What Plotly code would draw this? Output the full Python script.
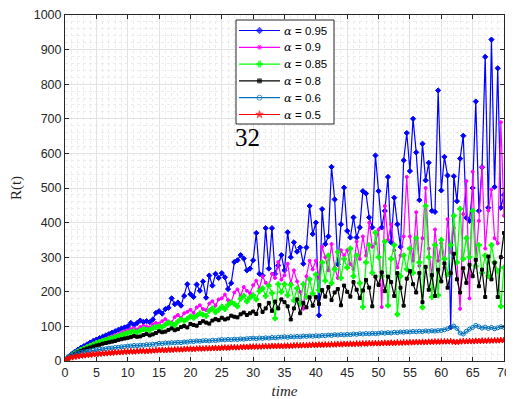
import plotly.graph_objects as go

time = [i * 0.5 for i in range(141)]

r_095 = [
    0, 11, 19, 26, 32, 38, 43, 48, 53, 58,
    62, 66, 70, 74, 78, 82, 86, 90, 94, 97,
    100, 110, 104, 110, 117, 113, 115, 112, 120, 139,
    144, 137, 150, 154, 181, 164, 169, 160, 188, 222,
    193, 185, 221, 203, 230, 183, 247, 218, 252, 240,
    254, 242, 208, 225, 286, 291, 306, 296, 262, 267,
    291, 370, 252, 247, 384, 267, 384, 252, 276, 306,
    262, 372, 300, 343, 316, 328, 281, 328, 448, 367,
    400, 132, 439, 338, 360, 561, 467, 280, 395, 501,
    376, 357, 415, 357, 386, 491, 484, 415, 386, 594,
    491, 386, 434, 532, 343, 472, 395, 330, 580, 659,
    549, 700, 603, 465, 628, 522, 573, 434, 431, 782,
    493, 590, 536, 98, 534, 462, 585, 651, 414, 405,
    500, 750, 434, 560, 879, 443, 929, 503, 846, 443,
    480,
]
r_09 = [
    0, 9, 17, 23, 29, 34, 38, 42, 46, 50,
    54, 57, 61, 64, 68, 71, 75, 78, 82, 85,
    88, 92, 95, 91, 98, 102, 100, 97, 106, 110,
    108, 115, 121, 114, 112, 127, 133, 125, 138, 142,
    148, 139, 155, 161, 150, 147, 166, 173, 160, 178,
    181, 192, 176, 170, 198, 207, 188, 214, 203, 196,
    219, 232, 210, 245, 226, 218, 252, 240, 286, 235,
    248, 281, 225, 262, 230, 200, 151, 245, 290, 265,
    290, 240, 330, 300, 262, 338, 270, 240, 320, 305,
    320, 280, 265, 345, 295, 360, 305, 400, 330, 340,
    380, 156, 448, 350, 395, 320, 270, 305, 360, 532,
    360, 290, 430, 275, 355, 500, 325, 245, 380, 290,
    340, 270, 410, 315, 385, 285, 151, 425, 520, 181,
    547, 295, 405, 560, 325, 435, 496, 355, 340, 690,
    420,
]
r_085 = [
    0, 9, 16, 22, 27, 32, 36, 40, 44, 48,
    52, 55, 58, 61, 64, 66, 69, 72, 75, 78,
    81, 84, 86, 83, 88, 92, 90, 89, 95, 98,
    100, 98, 105, 111, 107, 104, 114, 120, 116, 122,
    129, 125, 131, 138, 134, 130, 145, 152, 141, 148,
    157, 150, 162, 170, 165, 158, 180, 188, 172, 183,
    190, 178, 202, 210, 188, 218, 196, 123, 222, 200,
    222, 190, 220, 175, 210, 165, 222, 185, 236, 195,
    250, 205, 285, 232, 305, 225, 265, 315, 240, 295,
    270, 325, 245, 305, 225, 156, 285, 335, 255, 371,
    300, 245, 345, 160, 295, 335, 135, 245, 305, 265,
    325, 255, 355, 285, 155, 448, 300, 185, 335, 190,
    350, 295, 250, 335, 420, 285, 440, 295, 355, 300,
    434, 275, 335, 255, 305, 245, 335, 285, 260, 158,
    270,
]
r_08 = [
    0, 8, 15, 20, 25, 29, 33, 36, 39, 42,
    45, 47, 50, 52, 54, 56, 58, 61, 63, 65,
    67, 69, 72, 70, 71, 75, 78, 74, 77, 81,
    86, 83, 85, 90, 94, 89, 92, 98, 101, 97,
    107, 104, 102, 110, 115, 111, 108, 117, 121, 118,
    125, 120, 123, 131, 128, 126, 135, 140, 133, 138,
    143, 136, 162, 142, 152, 168, 145, 172, 152, 178,
    170, 158, 120, 152, 178, 138, 168, 155, 184, 160,
    185, 165, 205, 186, 214, 176, 198, 208, 161, 218,
    200, 186, 228, 206, 182, 204, 234, 212, 158, 244,
    220, 256, 202, 244, 228, 188, 254, 212, 160, 238,
    260, 222, 198, 254, 170, 272, 206, 248, 188, 264,
    230, 282, 212, 254, 310, 236, 198, 268, 226, 278,
    245, 292, 216, 264, 185, 302, 236, 284, 185, 300,
    370,
]
r_06 = [
    0, 12, 17, 20.5, 23, 25, 26.5, 28, 29.5, 31,
    32, 33.5, 34.5, 35.5, 37, 37.5, 39, 39.5, 41, 41.5,
    43, 43.5, 45, 44, 46, 45.5, 47.5, 47, 48.5, 48,
    51, 50, 52, 51.5, 53, 52.5, 54, 53, 55, 54.5,
    57, 56, 58, 57, 58.5, 59, 58, 60, 59, 60.5,
    62, 61, 62.5, 61.5, 63, 62, 64, 63, 64.5, 65,
    66, 64.5, 66.5, 65.5, 67, 66, 68, 67, 68.5, 69,
    70, 68.5, 70.5, 69.5, 71, 70, 72, 71, 72.5, 71.5,
    73, 72, 74, 73, 75, 74, 76, 75, 76.5, 75.5,
    77, 76, 78, 77, 79, 78, 79.5, 78.5, 80, 79,
    80, 81.5, 80.5, 82, 81, 83, 82, 84, 83, 84.5,
    84, 85.5, 84.5, 86, 85, 87, 86, 87.5, 86.5, 88,
    88, 90, 93, 97, 101, 94, 81, 78, 86, 92,
    97, 103, 99, 95, 98, 94, 97, 93, 96, 99,
    97,
]
r_05 = [
    0, 7, 10, 12, 13.5, 15, 16, 17, 18, 19,
    20, 20.5, 21.5, 22, 23, 23.5, 24.5, 25, 25.5, 26.5,
    27, 27.5, 27, 28, 28.5, 29, 28.5, 29.5, 30, 30.5,
    31, 31.5, 31, 32.5, 32, 33, 33.5, 33, 34, 34.5,
    35, 34.5, 35.5, 36, 35.5, 36.5, 36, 37, 37.5, 37,
    38, 38.5, 38, 39, 39.5, 39, 40, 40.5, 40, 41,
    41, 41.5, 41, 42, 42.5, 42, 43, 42.5, 43.5, 43,
    43.5, 44, 43.5, 44.5, 45, 44.5, 45.5, 45, 46, 46.5,
    46, 47, 46.5, 47.5, 47, 48, 47.5, 48.5, 48, 49,
    48.5, 49.5, 49, 50, 49.5, 50.5, 50, 51, 50.5, 51.5,
    51, 51.5, 52, 51.5, 52.5, 52, 53, 52.5, 53.5, 53,
    54, 53.5, 54.5, 54, 55, 54.5, 55.5, 55, 56, 55.5,
    56, 56.5, 56, 57, 55, 54.5, 56, 57, 56.5, 57.5,
    57, 58, 57.5, 58.5, 58, 59, 58.5, 59.5, 59, 60,
    60,
]

alphas = ["0.95", "0.9", "0.85", "0.8", "0.6", "0.5"]
series = [r_095, r_09, r_085, r_08, r_06, r_05]
colors = ["#0000FF", "#FF00FF", "#00FF00", "#000000", "#0072BD", "#FF0000"]
symbols = ["diamond", "circle", "cross", "square", "circle-open", "star"]
msizes = [4, 3, 4, 3, 4, 4.5]

# ---- layout geometry (page pixels; page has an 8px body margin) ----
W, H = 506, 391
ML, MR, MT, MB = 57, 10, 7, 38
PL, PT = 8 + ML, 8 + MT                # plot area top-left on page
PW, PH = W - ML - MR, H - MT - MB       # plot area size


def px2x(px):
    return (px - PL) / PW


def px2y(py):
    return (PT + PH - py) / PH


fig = go.Figure()
for a, ys, c, s, ms in zip(alphas, series, colors, symbols, msizes):
    fig.add_trace(go.Scatter(
        x=time, y=ys, mode="lines+markers", showlegend=False,
        name="α = " + a,
        line=dict(color=c, width=1.2),
        marker=dict(symbol=s, size=ms, color=c, line=dict(width=1, color=c)),
    ))

# ---- legend box drawn on an overlay axis (0..1 = plot area) ----
box_l, box_r, box_t, box_b = 236, 334, 20, 124
row0, row_step = 30.5, 16.8
samp_l, samp_r, text_x = 239, 280, 282

fig.add_trace(go.Scatter(
    x=[px2x(box_l), px2x(box_r), px2x(box_r), px2x(box_l), px2x(box_l)],
    y=[px2y(box_t), px2y(box_t), px2y(box_b), px2y(box_b), px2y(box_t)],
    mode="lines", fill="toself", fillcolor="white",
    line=dict(color="#262626", width=1), hoverinfo="skip",
    showlegend=False, xaxis="x2", yaxis="y2",
))
for k, (a, c, s, ms) in enumerate(zip(alphas, colors, symbols, msizes)):
    yy = px2y(row0 + k * row_step)
    fig.add_trace(go.Scatter(
        x=[px2x(samp_l), px2x((samp_l + samp_r) / 2), px2x(samp_r)],
        y=[yy, yy, yy], mode="lines+markers",
        line=dict(color=c, width=1.2),
        marker=dict(symbol=s, size=[0, ms + 1, 0], color=c, line=dict(width=1, color=c)),
        hoverinfo="skip", showlegend=False, xaxis="x2", yaxis="y2",
    ))
    fig.add_annotation(
        x=px2x(text_x), y=yy, xref="paper", yref="paper",
        xanchor="left", yanchor="middle", showarrow=False,
        text="<span style=\"font-family:'DejaVu Serif'\"><i>α</i></span> = " + a,
        font=dict(family="Liberation Sans", size=11.5, color="black"),
    )

fig.add_annotation(x=29.1, y=645, text="32", showarrow=False,
                   font=dict(family="Liberation Serif", size=25, color="black"))

axis_common = dict(
    showline=True, mirror="ticks", linecolor="#262626", linewidth=1,
    ticks="inside", ticklen=4, tickcolor="#262626",
    showgrid=True, gridcolor="#e3e3e3", gridwidth=1, zeroline=False,
    tickfont=dict(family="Liberation Sans", size=12.5, color="#262626"),
    automargin=False,
)
fig.update_xaxes(range=[0, 70], dtick=5, tick0=0,
                 minor=dict(dtick=1, showgrid=True, gridcolor="#ececec", griddash="dot", ticks=""),
                 title=dict(text="<i>time</i>", font=dict(family="Liberation Serif", size=15, color="#262626"), standoff=6),
                 **axis_common)
fig.update_yaxes(range=[0, 1000], dtick=100, tick0=0,
                 minor=dict(dtick=20, showgrid=True, gridcolor="#ececec", griddash="dot", ticks=""),
                 title=dict(text="R(t)", font=dict(family="Liberation Serif", size=15, color="#262626"), standoff=18),
                 **axis_common)

fig.update_layout(
    width=W, height=H,
    margin=dict(l=ML, r=MR, t=MT, b=MB),
    paper_bgcolor="white", plot_bgcolor="white",
    showlegend=False,
    xaxis2=dict(overlaying="x", range=[0, 1], visible=False, fixedrange=True),
    yaxis2=dict(overlaying="y", range=[0, 1], visible=False, fixedrange=True),
)

fig.write_html("out.html")
